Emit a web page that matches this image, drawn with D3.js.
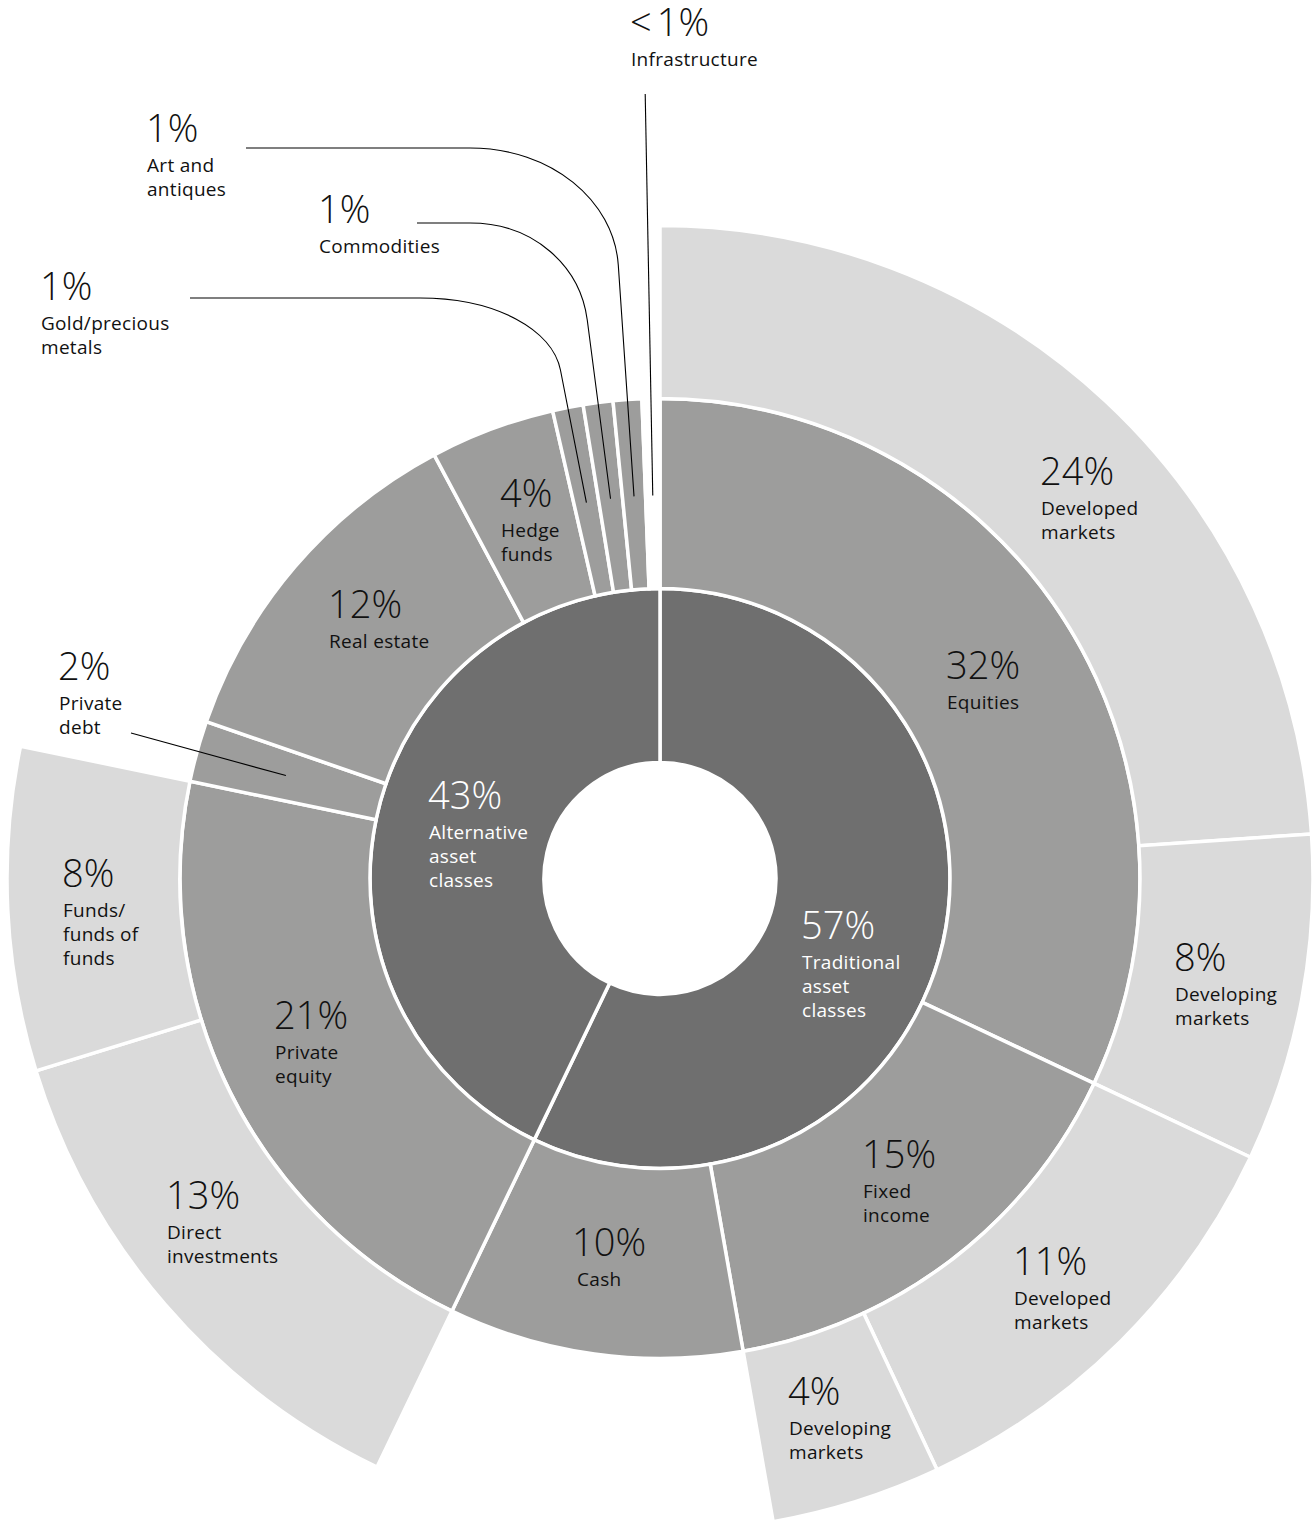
<!DOCTYPE html>
<html>
<head>
<meta charset="utf-8">
<script src="https://cdn.jsdelivr.net/npm/d3@7"></script>
<style>
  html, body { margin: 0; padding: 0; background: #fff; }
  svg { display: block; }
  .pct { font-family: "Open Sans", "Noto Sans", sans-serif; font-weight: 300; font-size: 38px; }
  .lbl { font-family: "Open Sans", "Noto Sans", sans-serif; font-weight: 400; font-size: 19px; letter-spacing: 0.3px; }
</style>
</head>
<body>
<svg id="chart" width="1314" height="1521"></svg>
<script>
// ---------- DATA ----------
const innerNames = ["Traditional asset classes", "Alternative asset classes"];
const innerPct = ["57%", "43%"];

const middleNames = ["Equities", "Fixed income", "Cash", "Private equity", "Private debt", "Real estate",
  "Hedge funds", "Gold/precious metals", "Commodities", "Art and antiques", "Infrastructure"];
const middleParent = [0, 0, 0, 1, 1, 1, 1, 1, 1, 1, 1];
const middleValues = [32.0, 15.2, 9.9, 21.1, 2.05, 11.9, 4.2, 1.03, 1.0, 0.96, 0.6];
const middlePct = ["32%", "15%", "10%", "21%", "2%", "12%", "4%", "1%", "1%", "1%", "<1%"];

const outerNames = ["Developed markets", "Developing markets", "Developed markets", "Developing markets",
  "Direct investments", "Funds/ funds of funds"];
const outerParent = [0, 0, 1, 1, 3, 3];
const outerValues = [23.9, 8.1, 11.0, 4.2, 13.1, 8.0];
const outerPct = ["24%", "8%", "11%", "4%", "13%", "8%"];

// ---------- LAYOUT (label placement, not data) ----------
const cx = 660, cy = 878.5;
const ringR = [[0, 0], [116, 290], [290, 480], [480, 653]];
const colors = ["#fff", "#6f6f6f", "#9d9d9c", "#dadada"];

const innerLabelPos = [
  { x: 801, y: 939, lines: ["Traditional", "asset", "classes"] },
  { x: 428, y: 809, lines: ["Alternative", "asset", "classes"] }
];
const middleLabelPos = [
  { x: 946, y: 679, lines: ["Equities"] },
  { x: 862, y: 1168, lines: ["Fixed", "income"] },
  { x: 572, y: 1256, lines: ["Cash"], lx: 577 },
  { x: 274, y: 1029, lines: ["Private", "equity"] },
  { x: 58, y: 680, lines: ["Private", "debt"] },
  { x: 328, y: 618, lines: ["Real estate"] },
  { x: 500, y: 507, lines: ["Hedge", "funds"] },
  { x: 40, y: 300, lines: ["Gold/precious", "metals"] },
  { x: 318, y: 223, lines: ["Commodities"] },
  { x: 146, y: 142, lines: ["Art and", "antiques"] },
  { x: 630, y: 36, lines: ["Infrastructure"] }
];
const outerLabelPos = [
  { x: 1040, y: 485, lines: ["Developed", "markets"] },
  { x: 1174, y: 971, lines: ["Developing", "markets"] },
  { x: 1013, y: 1275, lines: ["Developed", "markets"] },
  { x: 788, y: 1405, lines: ["Developing", "markets"] },
  { x: 166, y: 1209, lines: ["Direct", "investments"] },
  { x: 62, y: 887, lines: ["Funds/", "funds of", "funds"] }
];

const leaders = [
  { idx: 7, type: "curve", x0: 190, yh: 298, xc: 420, yb: 370 },
  { idx: 8, type: "curve", x0: 417, yh: 223, xc: 470, yb: 320 },
  { idx: 9, type: "curve", x0: 246, yh: 148, xc: 470, yb: 265 },
  { idx: 10, type: "radial", ytop: 94 },
  { idx: 4, type: "straight", sx: 131, sy: 733, r: 388 }
];

// ---------- BUILD HIERARCHY ----------
const root = {
  name: "root",
  children: innerNames.map((n, i) => ({
    name: n, pct: innerPct[i], level: 1, idx: i,
    children: middleNames.map((m, j) => ({ m, j })).filter(o => middleParent[o.j] === i).map(o => {
      const kids = outerNames.map((on, k) => ({ on, k })).filter(q => outerParent[q.k] === o.j)
        .map(q => ({ name: q.on, pct: outerPct[q.k], value: outerValues[q.k], level: 3, idx: q.k }));
      const node = { name: o.m, pct: middlePct[o.j], level: 2, idx: o.j };
      if (kids.length) node.children = kids; else node.value = middleValues[o.j];
      return node;
    })
  }))
};

const hier = d3.hierarchy(root).sum(d => d.children ? 0 : d.value);
d3.partition().size([2 * Math.PI, 3])(hier);

const arc = d3.arc()
  .startAngle(d => d.x0)
  .endAngle(d => d.x1)
  .innerRadius(d => ringR[d.depth][0])
  .outerRadius(d => ringR[d.depth][1]);

const svg = d3.select("#chart");
const g = svg.append("g").attr("transform", `translate(${cx},${cy})`);

const nodes = hier.descendants().filter(d => d.depth > 0);
g.selectAll("path.seg").data(nodes).join("path")
  .attr("class", "seg")
  .attr("d", arc)
  .attr("fill", d => d.data.name === "Infrastructure" ? "#fff" : colors[d.depth])
  .attr("stroke", "#fff")
  .attr("stroke-width", 3.5)
  .attr("stroke-linejoin", "miter");

// ---------- LEADERS ----------
function polar(a, r) { return [cx + r * Math.sin(a), cy - r * Math.cos(a)]; }
const middleNodes = {};
hier.descendants().filter(d => d.depth === 2).forEach(d => { middleNodes[d.data.idx] = d; });

const leaderG = svg.append("g").attr("fill", "none").attr("stroke", "#000").attr("stroke-width", 1.1);
leaders.forEach(L => {
  const nd = middleNodes[L.idx];
  const a = (nd.x0 + nd.x1) / 2;
  let p;
  if (L.type === "curve") {
    const end = polar(a, 383);
    const slope = (end[0] - cx) / (end[1] - cy);
    const bx = end[0] + slope * (L.yb - end[1]);
    const h = L.yb - L.yh;
    const c1 = [L.xc + 0.55 * (bx - L.xc), L.yh];
    const c2 = [bx - slope * 0.55 * h, L.yb - 0.55 * h];
    p = `M${L.x0},${L.yh} L${L.xc},${L.yh} C${c1[0]},${c1[1]} ${c2[0]},${c2[1]} ${bx},${L.yb} L${end[0]},${end[1]}`;
  } else if (L.type === "radial") {
    const end = polar(a, 383);
    const r2 = (cy - L.ytop) / Math.cos(a);
    const top = polar(a, r2);
    p = `M${top[0]},${top[1]} L${end[0]},${end[1]}`;
  } else {
    const end = polar(a, L.r);
    p = `M${L.sx},${L.sy} L${end[0]},${end[1]}`;
  }
  leaderG.append("path").attr("d", p);
});

// ---------- LABELS ----------
function drawLabel(pos, pct, color) {
  const t = svg.append("g").attr("fill", color);
  const txt = t.append("text").attr("class", "pct").attr("x", pos.x).attr("y", pos.y);
  if (pct.startsWith("<")) {
    txt.append("tspan").text("<");
    txt.append("tspan").attr("dx", 5).text(pct.slice(1));
  } else {
    txt.text(pct);
  }
  pos.lines.forEach((ln, i) => {
    t.append("text").attr("class", "lbl").attr("x", pos.lx || pos.x + 1).attr("y", pos.y + 30 + i * 24).text(ln);
  });
}
innerLabelPos.forEach((p, i) => drawLabel(p, innerPct[i], "#fff"));
middleLabelPos.forEach((p, i) => drawLabel(p, middlePct[i], "#111"));
outerLabelPos.forEach((p, i) => drawLabel(p, outerPct[i], "#111"));
</script>
</body>
</html>
